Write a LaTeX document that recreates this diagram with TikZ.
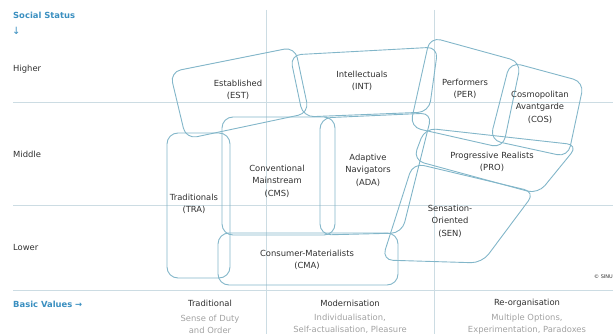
\documentclass[tikz,border=0pt]{standalone}
\usepackage{fontspec}
\setmainfont{DejaVu Sans}
\definecolor{milieublue}{HTML}{82B6C9}
\definecolor{gridgrey}{HTML}{CCDCE3}
\definecolor{headblue}{HTML}{3A8FC0}
\definecolor{textgrey}{HTML}{303030}
\definecolor{subgrey}{HTML}{A2A2A2}
\tikzset{
  milieu/.style={draw=milieublue, line width=0.9pt, rounded corners=11pt},
  gridline/.style={draw=gridgrey, line width=0.7pt},
  label/.style={font=\fontsize{8.4}{12.5}\selectfont, text=textgrey, align=center, inner sep=0pt},
  head/.style={font=\fontsize{8.4}{12.5}\selectfont\bfseries, text=headblue, anchor=west, inner sep=0pt},
  axislabel/.style={font=\fontsize{8.4}{12.5}\selectfont, text=textgrey, anchor=west, inner sep=0pt},
  valuelabel/.style={font=\fontsize{8.4}{12}\selectfont, text=subgrey, align=center, inner sep=0pt}
}
\begin{document}
\begin{tikzpicture}[x=1pt, y=-1pt]
      \useasboundingbox (0,0) rectangle (613,334);
      % Grid
      \draw[gridline] (13,102) -- (613,102);
      \draw[gridline] (13,205) -- (613,205);
      \draw[gridline, line width=1pt] (13,290) -- (613,290);
      \draw[gridline] (266,10) -- (266,334);
      \draw[gridline] (434,10) -- (434,334);
      % Axis labels
      \node[head] (status) at (13,15) {Social Status};
      \node[head, font=\fontsize{10}{10}\selectfont] (down) at (12,31) {↓};
      \node[axislabel] (higher) at (13,69) {Higher};
      \node[axislabel] (middle) at (13,154) {Middle};
      \node[axislabel] (lower) at (13,247) {Lower};
      \node[head] (values) at (13,304) {Basic Values →};
      % Basic values
      \node[label] (trad) at (210,303) {Traditional};
      \node[valuelabel] (tradsub) at (210,324) {Sense of Duty\\and Order};
      \node[label] (mod) at (350,303) {Modernisation};
      \node[valuelabel] (modsub) at (350,324) {Individualisation,\\Self-actualisation, Pleasure};
      \node[label] (reorg) at (527,303) {Re-organisation};
      \node[valuelabel] (reorgsub) at (527,324) {Multiple Options,\\Experimentation, Paradoxes};
      % Milieus
      \draw[milieu] (170,72) -- (295,47) -- (309,113) -- (186,139) -- cycle;
      \draw[milieu] (290,55) -- (438,47) -- (429,112) -- (303,117) -- cycle;
      \draw[milieu] (430,37) -- (521,62) -- (503,148) -- (410,127) -- cycle;
      \draw[milieu] (510,62) -- (584,82) -- (568,157) -- (490,140) -- cycle;
      \draw[milieu] (425,128) -- (578,145) -- (538,194) -- (413,160) -- cycle;
      \draw[milieu] (167,133) rectangle (230,278);
      \draw[milieu] (222,117) rectangle (335,235);
      \draw[milieu] (320,118) -- (432,113) -- (402,233) -- (320,235) -- cycle;
      \draw[milieu] (413,163) -- (535,192) -- (482,263) -- (382,260) -- cycle;
      \draw[milieu] (218,233) rectangle (398,285);
      % Milieu names
      \node[label] (est) at (238,90) {Established\\(EST)};
      \node[label] (int) at (362,81) {Intellectuals\\(INT)};
      \node[label] (per) at (465,89) {Performers\\(PER)};
      \node[label] (cos) at (540,107) {Cosmopolitan\\Avantgarde\\(COS)};
      \node[label] (cms) at (277,181) {Conventional\\Mainstream\\(CMS)};
      \node[label] (ada) at (368,170) {Adaptive\\Navigators\\(ADA)};
      \node[label] (pro) at (492,162) {Progressive Realists\\(PRO)};
      \node[label] (tra) at (194,204) {Traditionals\\(TRA)};
      \node[label] (sen) at (450,221) {Sensation-\\Oriented\\(SEN)};
      \node[label] (cma) at (307,260) {Consumer-Materialists\\(CMA)};
      % Copyright
      \node[anchor=east, inner sep=0pt, font=\fontsize{5}{6}\selectfont, text=textgrey] (copy) at (613,277) {© SINU};
\end{tikzpicture}
\end{document}
